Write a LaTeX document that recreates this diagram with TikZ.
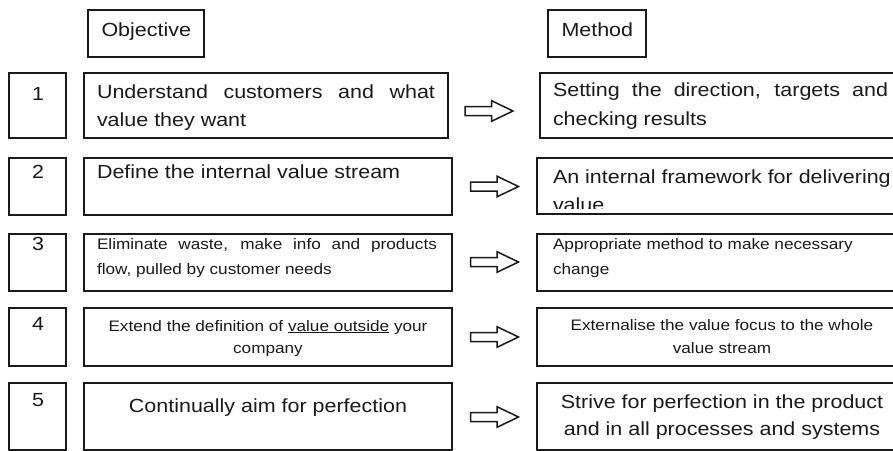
\documentclass[tikz,border=0pt]{standalone}
\usepackage{fontspec}
\setmainfont{Liberation Sans}[FakeStretch=1.13]
\usetikzlibrary{calc}
\definecolor{ink}{HTML}{1A1A1A}
\newcommand\bigtxt{\fontsize{19}{28}\selectfont}
\newcommand\smalltxt{\fontsize{15.2}{24.7}\selectfont}
\begin{document}
\begin{tikzpicture}[x=1pt,y=-1pt,
  box/.style={draw=ink, line width=1.3pt, anchor=north west, inner sep=0pt, outer sep=0pt},
  txt/.style={inner sep=0pt, outer sep=0pt, text=ink, anchor=base west},
  ctxt/.style={inner sep=0pt, outer sep=0pt, text=ink, anchor=base},
  blockarrow/.style={draw=ink, line width=1.5pt, fill=white, line join=miter}
]
\useasboundingbox (0,0) rectangle (893,450);
\clip (0,0) rectangle (893,450);

% headers
\node[box, minimum width=116pt, minimum height=47pt] (hobjbox) at (88,10) {};
\node[txt] (hobj) at (101.5,36) {\bigtxt Objective};
\node[box, minimum width=98pt, minimum height=47pt] (hmetbox) at (548,10) {};
\node[txt] (hmet) at (561.5,36) {\bigtxt Method};

% number boxes
\node[box, minimum width=57pt, minimum height=65pt] (n1) at (9,73) {};
\node[box, minimum width=57pt, minimum height=57pt] (n2) at (9,158) {};
\node[box, minimum width=57pt, minimum height=57pt] (n3) at (9,234) {};
\node[box, minimum width=57pt, minimum height=58pt] (n4) at (9,308) {};
\node[box, minimum width=57pt, minimum height=67pt] (n5) at (9,383) {};
\node[ctxt] (n1t) at (38,100) {\bigtxt 1};
\node[ctxt] (n2t) at (38,178.3) {\bigtxt 2};
\node[ctxt] (n3t) at (38,250) {\bigtxt 3};
\node[ctxt] (n4t) at (38,330) {\bigtxt 4};
\node[ctxt] (n5t) at (38,406) {\bigtxt 5};

% objective boxes
\node[box, minimum width=364pt, minimum height=65pt] (o1) at (84,73) {};
\node[box, minimum width=368pt, minimum height=57pt] (o2) at (84,158) {};
\node[box, minimum width=368pt, minimum height=57pt] (o3) at (84,234) {};
\node[box, minimum width=368pt, minimum height=58pt] (o4) at (84,308) {};
\node[box, minimum width=368pt, minimum height=67pt] (o5) at (84,383) {};

\node[txt] (o1t) at (97,98) {\parbox[t]{338pt}{\bigtxt\baselineskip=28pt\tolerance=10000
  Understand customers and what\linebreak value they want}};
\node[txt] (o2t) at (97,178.3) {\bigtxt Define the internal value stream};
\node[txt] (o3t) at (97,249.3) {\parbox[t]{340pt}{\smalltxt\baselineskip=24.7pt\tolerance=10000
  Eliminate waste, make info and products\linebreak flow, pulled by customer needs}};
\node[ctxt] (o4t) at (268,331) {\parbox[t]{360pt}{\centering\smalltxt\baselineskip=22pt
  Extend the definition of \underline{value outside} your\\ company}};
\node[ctxt] (o5t) at (268,412) {\bigtxt Continually aim for perfection};

% method boxes
\node[box, minimum width=370pt, minimum height=65pt] (m1) at (540,73) {};
\node[box, minimum width=373pt, minimum height=56pt] (m2) at (537,158) {};
\node[box, minimum width=373pt, minimum height=57pt] (m3) at (537,234) {};
\node[box, minimum width=373pt, minimum height=58pt] (m4) at (537,308) {};
\node[box, minimum width=373pt, minimum height=67pt] (m5) at (537,383) {};

\node[txt] (m1t) at (553,96) {\parbox[t]{335pt}{\bigtxt\baselineskip=29pt\tolerance=10000
  Setting the direction, targets and\linebreak checking results}};
\begin{scope}
  \clip (537,150) rectangle (893,208.5);
  \node[txt] (m2t) at (553,183) {\parbox[t]{345pt}{\raggedright\bigtxt\baselineskip=28pt
    An internal framework for delivering\\ value}};
\end{scope}
\node[txt] (m3t) at (553,249.3) {\parbox[t]{340pt}{\raggedright\smalltxt\baselineskip=24.7pt
  Appropriate method to make necessary\\ change}};
\node[ctxt] (m4t) at (722,330) {\parbox[t]{350pt}{\centering\smalltxt\baselineskip=23pt
  Externalise the value focus to the whole\\ value stream}};
\node[ctxt] (m5t) at (722,408.3) {\parbox[t]{350pt}{\centering\bigtxt\baselineskip=27pt
  Strive for perfection in the product\\ and in all processes and systems}};

% block arrows
\coordinate (a1) at (465,111);
\coordinate (a2) at (470.5,186.5);
\coordinate (a3) at (470.5,262);
\coordinate (a4) at (470.5,337);
\coordinate (a5) at (470.5,417);
\foreach \a in {a1,a2,a3,a4,a5}{
  \draw[blockarrow] (\a) ++(0,-4.5) -- ++(26.5,0) -- ++(0,-5.8) -- ++(21.5,10.3)
    -- ++(-21.5,10.3) -- ++(0,-5.8) -- ++(-26.5,0) -- cycle;
}
\end{tikzpicture}
\end{document}
